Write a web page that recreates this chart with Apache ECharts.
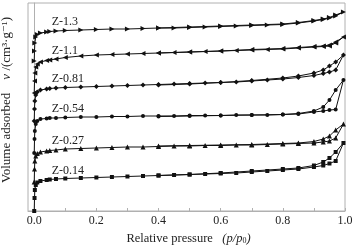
<!DOCTYPE html>
<html>
<head>
<meta charset="utf-8">
<script src="https://cdn.jsdelivr.net/npm/echarts@6/dist/echarts.min.js"></script>
<style>
html, body { margin: 0; padding: 0; background: #fff; }
#chart { width: 357px; height: 249px; }
</style>
</head>
<body>
<div id="chart"></div>
<script>
// relative pressure p/p0, adsorption then desorption branch
var adsP = [0, 0.001, 0.002, 0.005, 0.01, 0.02, 0.04, 0.05, 0.07, 0.1, 0.15, 0.2, 0.25, 0.3, 0.35, 0.4, 0.45, 0.5, 0.55, 0.6, 0.65, 0.7, 0.75, 0.8, 0.85, 0.9, 0.93, 0.95, 0.97, 0.995];
var desP = [0.97, 0.95, 0.93, 0.9, 0.85, 0.8, 0.7, 0.6, 0.5, 0.4];

// stacked (offset) volumes, arbitrary units
var names = ['Z-1.3', 'Z-1.1', 'Z-0.81', 'Z-0.54', 'Z-0.27', 'Z-0.14'];
var adsZ13 = [150, 160, 168, 174, 176.5, 178, 179, 179.5, 180, 180.5, 181, 181.5, 182, 182, 182.5, 183, 183, 183.5, 184, 184.5, 185, 185.5, 186, 186.5, 188, 190, 191.5, 193, 195, 199];
var desZ13 = [196, 193.5, 192, 190.5, 188.5, 187, 186, 185, 184, 183];
var adsZ11 = [118, 130, 138, 144, 147, 149, 150.5, 151, 152, 153.5, 155, 156, 156.5, 157, 157.5, 158, 158.5, 159, 159.5, 160, 160.5, 161, 161.5, 162, 163, 164, 164.5, 165, 168, 174];
var desZ11 = [169, 166, 165, 164.5, 163.5, 162.5, 161.5, 160, 159, 158];
var adsZ081 = [90, 102, 110, 116, 119, 121, 122, 122.5, 123, 123.5, 124, 124.5, 125, 125.5, 126, 126.5, 127, 127.5, 128, 128.5, 129, 130, 131, 132, 133.5, 135.5, 137.5, 139, 141, 156];
var desZ081 = [149, 145, 141, 138, 135, 133, 130.5, 128.5, 127, 126];
var adsZ054 = [58, 72, 80, 87, 90, 92, 92.5, 93, 93, 93.5, 94, 94, 94.5, 94.5, 95, 95, 95, 95.5, 95.5, 95.5, 96, 96, 96, 96.5, 97, 99, 100, 101, 101.5, 131];
var desZ054 = [121, 111, 104, 100, 97.5, 96.5, 96, 95.5, 95, 94.5];
var adsZ027 = [29, 42, 50, 55, 57.5, 59, 60, 60.5, 61, 62, 62.5, 63, 63.5, 64, 64, 64.5, 65, 65, 65.5, 65.5, 66, 66, 66.5, 67, 67.5, 68, 69, 70, 73, 87];
var desZ027 = [81, 75, 72, 69.5, 68, 67.5, 66.5, 66, 65.5, 65];
var adsZ014 = [0, 13, 21, 26, 28.5, 30, 31, 31.5, 32, 32.5, 33, 33.5, 34, 34.5, 35, 35.5, 36, 36.5, 37, 37.5, 38, 39, 40, 41, 42, 44, 45.5, 47.5, 50, 68];
var desZ014 = [59, 53, 49, 45.5, 43, 42, 40, 38, 36.5, 35.5];

var xLabelValues = [0, 0.2, 0.4, 0.6, 0.8, 1.0];
var xTickValues = [0, 0.1, 0.2, 0.3, 0.4, 0.5, 0.6, 0.7, 0.8, 0.9, 1.0];

var adsSets = [adsZ13, adsZ11, adsZ081, adsZ054, adsZ027, adsZ014];
var desSets = [desZ13, desZ11, desZ081, desZ054, desZ027, desZ014];
var symbols = ['triangle', 'triangle', 'diamond', 'circle', 'triangle', 'rect'];
var rotates = [-90, 90, 0, 0, 0, 0];
var sizes = [5, 5, 5, 4, 5, 4];
var labelAt = 0.05;

var serif = '"Liberation Serif", "DejaVu Serif", serif';
var frame = '#b0b0b0';
var ink = '#222';

var series = names.map(function (name, i) {
    var data = [];
    adsP.forEach(function (p, k) {
        var item = { value: [p, adsSets[i][k]] };
        if (p === labelAt) {
            item.label = {
                show: true,
                position: 'top',
                align: 'left',
                offset: [2, 4],
                formatter: name,
                fontFamily: serif,
                fontSize: 12,
                color: ink
            };
        }
        data.push(item);
    });
    desP.forEach(function (p, k) {
        data.push({ value: [p, desSets[i][k]] });
    });
    return {
        name: name,
        type: 'line',
        data: data,
        symbol: symbols[i],
        symbolRotate: rotates[i],
        symbolSize: sizes[i],
        showAllSymbol: true,
        lineStyle: { color: '#111', width: 1 },
        itemStyle: { color: '#111' },
        animation: false
    };
});

var myChart = echarts.init(document.getElementById('chart'));
myChart.setOption({
    backgroundColor: '#fff',
    grid: {
        left: 28, right: 12, top: 3, bottom: 38,
        outerBoundsMode: 'none',
        containLabel: false,
        show: true,
        borderColor: frame,
        borderWidth: 1
    },
    xAxis: {
        type: 'value',
        min: -0.02,
        max: 1.0,
        name: 'Relative pressure   {i|(p/p}{s|0}{i|)}',
        nameLocation: 'middle',
        nameGap: 20,
        nameTextStyle: {
            fontFamily: serif,
            fontSize: 12.5,
            color: ink,
            padding: [0, 0, 0, 4],
            rich: {
                i: { fontFamily: serif, fontSize: 12.5, fontStyle: 'italic', color: ink },
                s: { fontFamily: serif, fontSize: 8, color: ink, padding: [6, 0, 0, 0] }
            }
        },
        axisLine: { lineStyle: { color: frame } },
        axisTick: {
            inside: true,
            length: 3,
            customValues: xTickValues,
            lineStyle: { color: frame }
        },
        axisLabel: {
            customValues: xLabelValues,
            formatter: function (v) { return v.toFixed(1); },
            fontFamily: serif,
            fontSize: 12,
            color: ink,
            margin: 4
        },
        splitLine: { show: false }
    },
    yAxis: {
        type: 'value',
        min: 0,
        max: 208,
        name: 'Volume adsorbed    {i|v} /(cm³·g⁻¹)',
        nameLocation: 'middle',
        nameRotate: 90,
        nameGap: 15,
        nameTextStyle: {
            fontFamily: serif,
            fontSize: 13,
            color: ink,
            padding: [0, 0, 0, 14],
            rich: {
                i: { fontFamily: serif, fontSize: 13, fontStyle: 'italic', color: ink }
            }
        },
        axisLine: { show: true, lineStyle: { color: frame } },
        axisTick: { show: false },
        axisLabel: { show: false },
        splitLine: { show: false }
    },
    series: series
});
</script>
</body>
</html>
